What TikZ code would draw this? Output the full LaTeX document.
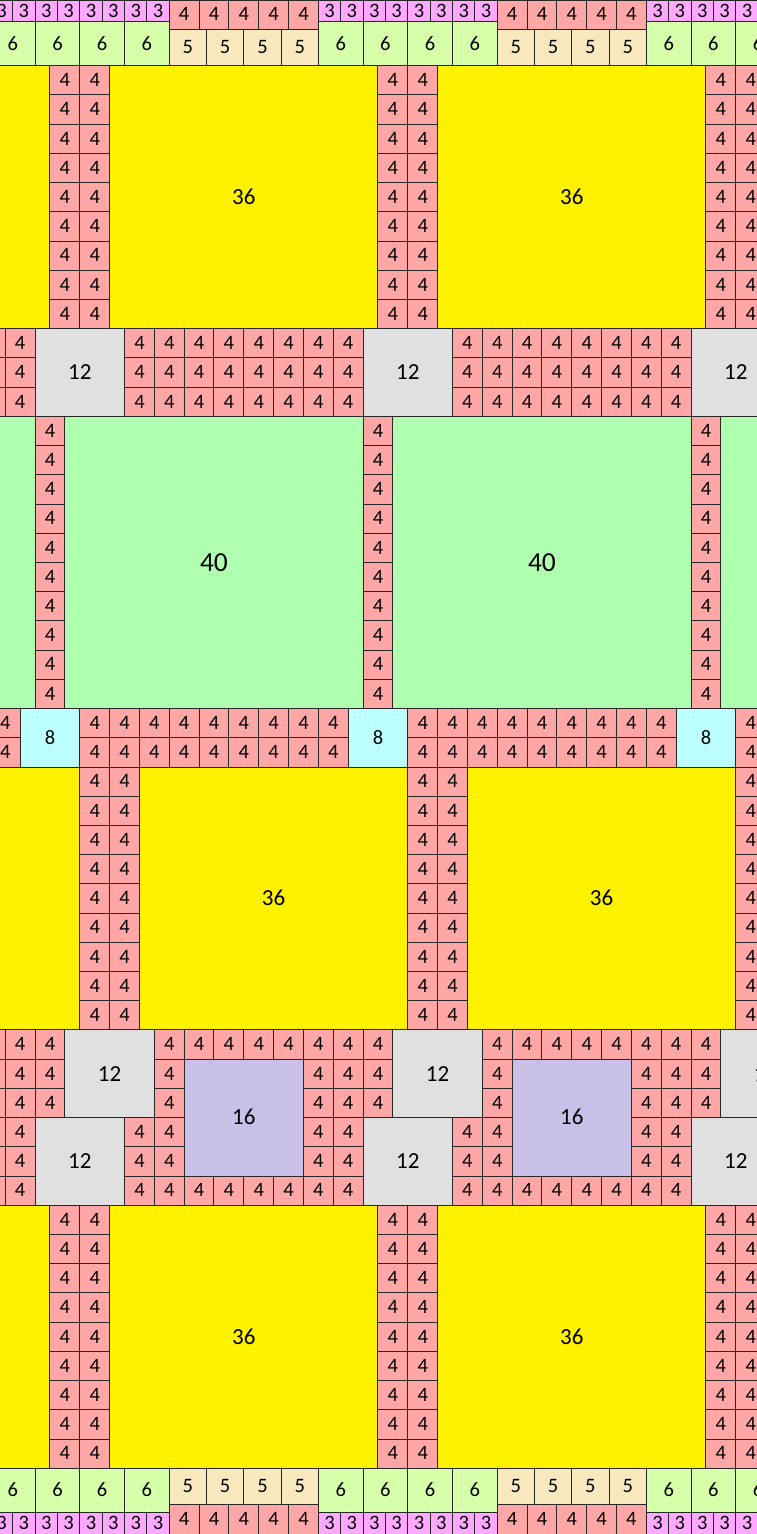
\documentclass[tikz,border=0pt]{standalone}
\usepackage{fontspec}
\setmainfont{Carlito}
\definecolor{col3}{HTML}{FFA8FF}
\definecolor{col4}{HTML}{FFA6A6}
\definecolor{col5}{HTML}{F8E8BE}
\definecolor{col6}{HTML}{D5FFA8}
\definecolor{col8}{HTML}{BBFFFF}
\definecolor{col12}{HTML}{E0E0E0}
\definecolor{col16}{HTML}{C8C0E6}
\definecolor{col36}{HTML}{FFF200}
\definecolor{col40}{HTML}{B0FFB0}
\tikzset{
  cellline/.style={draw=black!85,line width=1pt},
  s3/.style={cellline,fill=col3},
  s4/.style={cellline,fill=col4},
  s5/.style={cellline,fill=col5},
  s6/.style={cellline,fill=col6},
  s8/.style={cellline,fill=col8},
  s12/.style={cellline,fill=col12},
  s16/.style={cellline,fill=col16},
  s36/.style={cellline,fill=col36},
  s40/.style={cellline,fill=col40},
  smallnum/.style={inner sep=0pt,text height=12.5pt,text depth=0pt,font=\fontsize{20.5}{20.5}\selectfont},
  midnum/.style={inner sep=0pt,text height=14.5pt,text depth=0pt,font=\fontsize{23}{23}\selectfont},
  bignum/.style={inner sep=0pt,text height=17.5pt,text depth=0pt,font=\fontsize{27.5}{27.5}\selectfont},
  l3/.style={smallnum},
  l4/.style={smallnum},
  l5/.style={smallnum},
  l6/.style={smallnum},
  l8/.style={smallnum},
  l12/.style={midnum},
  l16/.style={midnum},
  l36/.style={midnum},
  l40/.style={bignum}
}
\newcommand\mysq[3]{\draw[s#3] (#1,#2) rectangle ++(#3,#3); \node[l#3] at ({#1+#3/2},{#2+#3/2}) {#3};}
\begin{document}
\begin{tikzpicture}[x=7.4545pt,y=-7.305pt]
\useasboundingbox (-6.7075,0) rectangle (94.842,210);
\clip (-6.7075,0) rectangle (94.842,210);
% top and bottom bands
\foreach \p in {-44,0,44}{
  \foreach \i in {0,...,7}{\mysq{\p+36+3*\i}{0}{3}}
  \foreach \i in {0,...,3}{\mysq{\p+36+6*\i}{3}{6}}
  \foreach \i in {0,...,3}{\mysq{\p+36+6*\i}{201}{6}}
  \foreach \i in {0,...,7}{\mysq{\p+36+3*\i}{207}{3}}
}
\foreach \p in {0,44}{
  \foreach \i in {0,...,4}{\mysq{\p+16+4*\i}{0}{4} \mysq{\p+16+4*\i}{206}{4}}
  \foreach \i in {0,...,3}{\mysq{\p+16+5*\i}{4}{5} \mysq{\p+16+5*\i}{201}{5}}
}
% yellow rows C and I
\foreach \p in {-44,0,44}{\mysq{\p+8}{9}{36} \mysq{\p+8}{165}{36}}
\foreach \p in {0,44,88}{\foreach \j in {0,...,8}{
  \mysq{\p}{9+4*\j}{4}\mysq{\p+4}{9+4*\j}{4}
  \mysq{\p}{165+4*\j}{4}\mysq{\p+4}{165+4*\j}{4}}}
% row D
\foreach \p in {0,44,88}{\mysq{\p-2}{45}{12}}
\foreach \p in {-44,0,44}{\foreach \i in {0,...,7}{\foreach \j in {0,1,2}{\mysq{\p+10+4*\i}{45+4*\j}{4}}}}
% row E
\foreach \p in {-44,0,44,88}{\mysq{\p+2}{57}{40}}
\foreach \p in {0,44,88}{\foreach \j in {0,...,9}{\mysq{\p-2}{57+4*\j}{4}}}
% row F
\foreach \p in {0,44,88}{\mysq{\p-4}{97}{8}}
\foreach \p in {-44,0,44,88}{\foreach \i in {0,...,8}{\mysq{\p+4+4*\i}{97}{4}\mysq{\p+4+4*\i}{101}{4}}}
% row G
\foreach \p in {-44,0,44}{\mysq{\p+12}{105}{36}}
\foreach \p in {0,44,88}{\foreach \j in {0,...,8}{\mysq{\p+4}{105+4*\j}{4}\mysq{\p+8}{105+4*\j}{4}}}
% row H
\foreach \p in {-44,0,44,88}{
  \mysq{\p+2}{141}{12}
  \mysq{\p-2}{153}{12}
  \mysq{\p+18}{145}{16}
  \foreach \j in {0,1,2}{\mysq{\p-2}{141+4*\j}{4}\mysq{\p+10}{153+4*\j}{4}}
  \foreach \j in {0,...,5}{\mysq{\p+14}{141+4*\j}{4}\mysq{\p+34}{141+4*\j}{4}\mysq{\p+38}{141+4*\j}{4}}
  \foreach \i in {0,...,3}{\mysq{\p+18+4*\i}{141}{4}\mysq{\p+18+4*\i}{161}{4}}
}
\end{tikzpicture}
\end{document}
